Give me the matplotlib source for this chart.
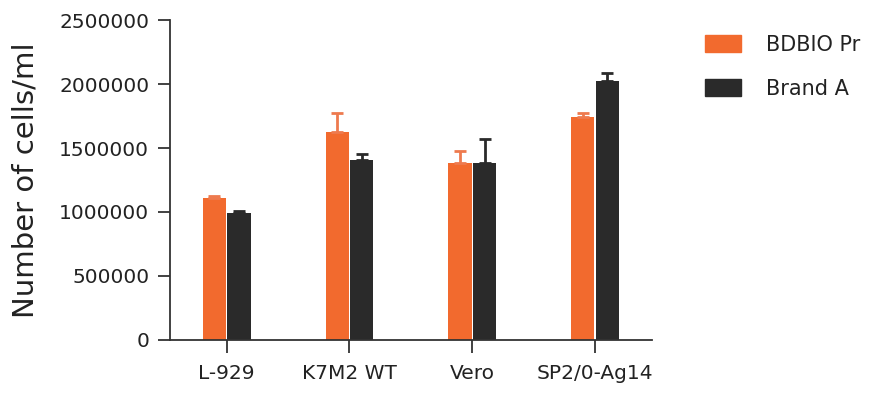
import numpy as np
import matplotlib.pyplot as plt
from matplotlib.patches import Patch

categories = ['L-929', 'K7M2 WT', 'Vero', 'SP2/0-Ag14']
bdbio = [1112000, 1625000, 1383000, 1742000]
bdbio_err = [15000, 146000, 96000, 34000]
brand_a = [992000, 1406000, 1383000, 2023000]
brand_a_err = [15000, 45000, 185000, 60000]
series_names = ['BDBIO Pr', 'Brand A']

orange = '#F26A2E'
dark = '#2A2A2A'

plt.rcParams['font.family'] = ['DejaVu Sans']

fig = plt.figure(figsize=(8.77, 3.97), dpi=100)
ax = fig.add_axes([0.194, 0.1436, 0.549, 0.806])

x = np.arange(len(categories))
w = 0.19
ax.bar(x - w / 2 - 0.005, bdbio, width=w, color=orange,
       yerr=[np.zeros(4), bdbio_err], error_kw=dict(ecolor='#EE7A4E', elinewidth=2, capsize=4.5, capthick=2))
ax.bar(x + w / 2 + 0.005, brand_a, width=w, color=dark,
       yerr=[np.zeros(4), brand_a_err], error_kw=dict(ecolor=dark, elinewidth=2, capsize=4.5, capthick=2))

ax.set_xlim(-0.46, 3.46)
ax.set_ylim(0, 2500000)
ax.set_yticks(np.arange(0, 2500001, 500000))
ax.set_yticklabels([str(v) for v in range(0, 2500001, 500000)])
ax.set_xticks(x)
ax.set_xticklabels(categories)

for s in ['top', 'right']:
    ax.spines[s].set_visible(False)
for s in ['left', 'bottom']:
    ax.spines[s].set_color('#333333')
    ax.spines[s].set_linewidth(1.3)
ax.tick_params(axis='both', length=9, width=1.3, color='#333333', labelsize=14.5, labelcolor='#222222')
ax.tick_params(axis='y', pad=6)
ax.tick_params(axis='x', pad=8)

ax.set_ylabel('Number of cells/ml', fontsize=21, color='#222222', labelpad=14)

handles = [Patch(color=orange), Patch(color=dark)]
fig.legend(handles, series_names, loc='upper left', bbox_to_anchor=(0.783, 0.96),
           frameon=False, fontsize=15, handlelength=1.7, handleheight=0.9,
           handletextpad=1.2, labelspacing=1.15, labelcolor='#222222')

plt.savefig('out.png', dpi=100)
